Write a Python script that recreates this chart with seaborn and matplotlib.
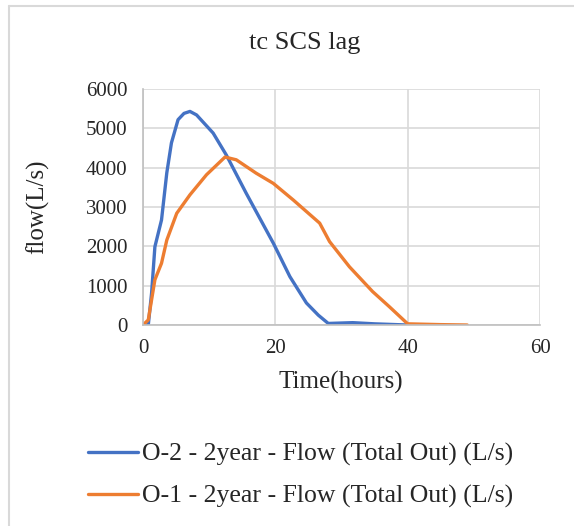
import matplotlib
matplotlib.use('Agg')
import matplotlib.pyplot as plt
import numpy as np
import pandas as pd
import seaborn as sns
from matplotlib.lines import Line2D

sns.set_theme(style='whitegrid')
plt.rcParams['font.family'] = ['Liberation Serif', 'DejaVu Serif']

# O-2 hydrograph (blue)
o2_time = [0, 0.8, 1.3, 1.8, 2.8, 3.6, 4.3, 5.3, 6.2, 7.1, 8.1, 10.6, 12.6,
           15.6, 19.7, 22.2, 24.7, 26.5, 28, 31.7, 35, 40]
o2_flow = [0, 0, 810, 1990, 2670, 3870, 4630, 5220, 5380, 5430, 5340, 4880,
           4320, 3350, 2080, 1230, 560, 250, 40, 60, 30, 0]

# O-1 hydrograph (orange)
o1_time = [0, 0.8, 1.8, 2.8, 3.6, 5.1, 7.1, 9.6, 12.4, 14.1, 17.1, 19.7,
           22.7, 26.7, 28.2, 31.2, 34.7, 37.2, 40, 45, 49]
o1_flow = [0, 130, 1150, 1570, 2160, 2840, 3310, 3820, 4270, 4200, 3860, 3600,
           3180, 2590, 2120, 1480, 850, 470, 30, 10, 0]

labels = ['O-2 - 2year - Flow (Total Out) (L/s)',
          'O-1 - 2year - Flow (Total Out) (L/s)']
colors = ['#4472C4', '#ED7D31']

df = pd.concat([
    pd.DataFrame({'time': o2_time, 'flow': o2_flow, 'series': labels[0]}),
    pd.DataFrame({'time': o1_time, 'flow': o1_flow, 'series': labels[1]}),
])

fig = plt.figure(figsize=(5.74, 5.26), dpi=100)
ax = fig.add_axes([0.2491, 0.3821, 0.6917, 0.4487])

sns.lineplot(data=df, x='time', y='flow', hue='series', palette=colors,
             linewidth=2.4, sort=False, estimator=None, ax=ax, legend=False)

ax.set_xlim(0, 60)
ax.set_ylim(0, 6000)
ax.set_xticks([0, 20, 40, 60])
ax.set_yticks(range(0, 7000, 1000))
ax.set_xlabel('')
ax.set_ylabel('')
ax.grid(True, color='#d9d9d9', linewidth=1.2)
for s in ['top', 'right']:
    ax.spines[s].set_visible(False)
for s in ['left', 'bottom']:
    ax.spines[s].set_color('#bfbfbf')
    ax.spines[s].set_linewidth(1.2)
ax.tick_params(axis='both', length=5, width=1.2, color='#bfbfbf',
               labelsize=15, labelcolor='#262626', direction='out')
ax.tick_params(axis='y', pad=6)
ax.tick_params(axis='x', pad=5)
ax.set_facecolor('white')

fig.text(0.531, 0.918, 'tc SCS lag', ha='center', va='center', fontsize=19,
         color='#262626')
fig.text(0.594, 0.272, 'Time(hours)', ha='center', va='center', fontsize=18,
         color='#262626')
fig.text(0.066, 0.607, 'flow(L/s)', ha='center', va='center', fontsize=18,
         color='#262626', rotation=90)

handles = [Line2D([], [], color=c, linewidth=2.4) for c in colors]
fig.legend(handles, labels, loc='center', bbox_to_anchor=(0.524, 0.096),
           frameon=False, fontsize=18.5, handlelength=1.95, handletextpad=0.15,
           labelspacing=0.72, labelcolor='#262626')

# chart border (left and top edges visible in the crop)
fig.add_artist(Line2D([0.016, 0.016], [0, 0.989], transform=fig.transFigure,
                      color='#d9d9d9', linewidth=1.5))
fig.add_artist(Line2D([0.016, 1], [0.989, 0.989], transform=fig.transFigure,
                      color='#d9d9d9', linewidth=1.5))

fig.savefig('out.png', dpi=100, facecolor='white')
